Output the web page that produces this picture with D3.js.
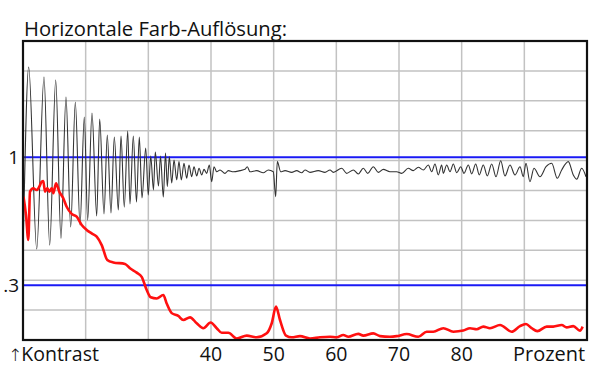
<!DOCTYPE html>
<html>
<head>
<meta charset="utf-8">
<script src="https://cdnjs.cloudflare.com/ajax/libs/d3/7.8.5/d3.min.js"></script>
<style>
  body { margin: 0; background: #fff; }
  svg text { font-family: "Open Sans", "Noto Sans", sans-serif; fill: #111; }
</style>
</head>
<body>
<svg id="chart" width="600" height="385"></svg>
<script>
// horizontal colour resolution, contrast (log) vs. percent of the frequency range
var title = 'Horizontale Farb-Auflösung:';

// luminance curve (black)
var blackPct = [10.08, 10.91, 12.19, 13.35, 14.26, 15.22, 16.06, 16.86, 17.61, 18.35, 19.10, 19.78,
  20.32, 21.01, 21.76, 22.24, 22.93, 23.45, 24.04, 24.57, 25.21, 25.64, 26.16, 26.71, 27.07, 27.60,
  28.11, 28.56, 28.99, 29.58, 29.99, 30.38, 30.82, 31.11, 31.62, 31.94, 32.39,
  32.74, 33.03, 33.35, 33.73, 34.10, 34.53, 34.89, 35.26, 35.69, 36.12, 36.49, 36.92, 37.29, 37.72,
  38.09, 38.52, 38.88, 39.31, 39.73, 40.11, 40.48, 40.91, 41.44, 42.23, 42.76, 43.56, 44.63, 45.43,
  45.79, 46.22, 47.29, 48.35, 49.14, 49.94, 50.32, 50.58, 51.12, 51.81, 52.88, 53.67, 54.47, 55.00,
  55.80, 57.12, 58.19, 58.99, 59.52, 60.86, 61.65, 62.71, 63.50, 64.30, 65.01, 65.90, 66.70, 67.49,
  68.56, 69.63, 70.43, 71.48, 72.28, 73.08, 73.88, 74.68, 75.22, 75.74, 76.27, 76.81, 77.07,
  77.61, 78.14, 78.67, 79.21, 79.85, 80.37, 81.06, 81.60, 82.24, 82.81, 83.45, 84.09, 84.79, 85.48,
  86.23, 86.91, 87.71, 88.51, 89.31, 89.83, 90.26, 90.90, 91.54, 92.50, 93.46, 94.37, 95.26, 95.96,
  97.02, 97.81, 98.36, 99.15, 99.84];
var blackVal = [0.505, 2.338, 0.422, 2.128, 0.438, 2.069, 0.467, 1.763, 0.519, 1.682, 0.529, 1.461,
  0.554, 1.517, 0.576, 1.434, 0.587, 1.233, 0.592, 1.210, 0.609, 1.221, 0.626, 1.281, 0.645, 1.221,
  0.656, 1.210, 0.682, 1.091, 0.701, 1.012, 0.736, 1.051, 0.764, 1.012, 0.688,
  1.041, 0.759, 1.006, 0.785, 0.975, 0.808, 0.960, 0.808, 0.945, 0.821, 0.930, 0.833, 0.915, 0.839,
  0.902, 0.847, 0.893, 0.860, 0.930, 0.795, 0.915, 0.873, 0.888, 0.860, 0.882, 0.873, 0.882, 0.893,
  0.915, 0.873, 0.882, 0.865, 0.888, 0.873, 0.690, 0.960, 0.873, 0.882, 0.868, 0.882, 0.865, 0.888,
  0.868, 0.882, 0.868, 0.888, 0.868, 0.902, 0.860, 0.888, 0.855, 0.902, 0.860, 0.915, 0.868, 0.893,
  0.873, 0.873, 0.860, 0.902, 0.882, 0.910, 0.888, 0.930, 0.873, 0.939, 0.847, 0.930, 0.860,
  0.930, 0.873, 0.939, 0.865, 0.915, 0.860, 0.930, 0.855, 0.939, 0.847, 0.930, 0.839, 0.939, 0.833,
  0.968, 0.839, 0.930, 0.847, 0.915, 0.833, 0.945, 0.795, 0.902, 0.833, 0.915, 0.945, 0.821, 0.888,
  0.960, 0.847, 0.814, 0.902, 0.833];

// colour curve (red)
var redPct = [10.08, 10.48, 10.85, 11.12, 11.64, 12.19, 12.60, 12.98, 13.24, 13.51, 13.88, 14.20,
  14.58, 14.84, 15.27, 15.79, 16.43, 16.97, 17.77, 18.57, 19.37, 20.16, 20.96, 21.76, 22.56, 23.45,
  24.41, 26.28, 27.07, 28.14, 28.94, 29.74, 30.38, 31.34, 32.39, 32.93, 33.73, 34.78, 35.58, 36.65,
  37.72, 38.77, 39.95, 40.91, 41.71, 42.76, 44.10, 45.70, 47.29, 48.89, 49.69, 50.37, 51.01, 51.97,
  52.88, 54.20, 55.80, 57.40, 58.99, 60.06, 61.11, 61.91, 63.50, 64.30, 65.90, 66.97, 68.56, 69.63,
  71.23, 73.08, 74.42, 75.47, 77.07, 78.67, 80.26, 81.33, 82.40, 83.45, 84.52, 86.12, 87.98, 89.31,
  90.26, 91.17, 92.07, 93.57, 94.62, 95.96, 96.76, 97.81, 98.88, 99.31];
var redVal = [0.690, 0.581, 0.460, 0.724, 0.747, 0.735, 0.759, 0.795, 0.800, 0.724, 0.747, 0.724,
  0.747, 0.713, 0.783, 0.724, 0.680, 0.628, 0.587, 0.572, 0.529, 0.505, 0.489, 0.474, 0.438, 0.381,
  0.372, 0.367, 0.352, 0.338, 0.325, 0.287, 0.268, 0.265, 0.274, 0.253, 0.231, 0.225, 0.2165, 0.222,
  0.210, 0.2005, 0.2115, 0.2005, 0.192, 0.192, 0.182, 0.187, 0.184, 0.191, 0.210, 0.2455, 0.2165, 0.187,
  0.184, 0.186, 0.182, 0.184, 0.185, 0.184, 0.188, 0.185, 0.190, 0.187, 0.191, 0.186, 0.185, 0.186,
  0.1897, 0.185, 0.194, 0.194, 0.2005, 0.194, 0.196, 0.2005, 0.1985, 0.2035, 0.2005, 0.2065, 0.194, 0.2045,
  0.2085, 0.2005, 0.195, 0.2035, 0.2035, 0.2065, 0.202, 0.2045, 0.196, 0.2035];

var xGrid = [20, 30, 40, 50, 60, 70, 80, 90];
var xTickLabels = [40, 50, 60, 70, 80];
var refLines = [1, 0.3];
var refLabels = ['1', '.3'];

var svg = d3.select('#chart');
var m = {top: 41, right: 13, bottom: 45, left: 23};
var w = 600 - m.left - m.right, h = 385 - m.top - m.bottom;

var x = d3.scaleLinear().domain([10, 100]).range([0, w]);
var y = d3.scaleLog().domain([0.1794, 2.985]).range([h, 0]);

var g = svg.append('g').attr('transform', 'translate(' + m.left + ',' + m.top + ')');

// grid: vertical every 10 %, horizontal 10 equal steps in log space
var lo = Math.log10(y.domain()[0]), hi = Math.log10(y.domain()[1]);
var yGrid = d3.range(1, 10).map(function(i) { return Math.pow(10, lo + (hi - lo) * i / 10); });

g.selectAll('line.vgrid').data(xGrid).enter().append('line')
  .attr('class', 'vgrid')
  .attr('x1', function(d) { return x(d); }).attr('x2', function(d) { return x(d); })
  .attr('y1', 0).attr('y2', h)
  .attr('stroke', '#c2c2c2').attr('stroke-width', 1.5);

g.selectAll('line.hgrid').data(yGrid).enter().append('line')
  .attr('class', 'hgrid')
  .attr('x1', 0).attr('x2', w)
  .attr('y1', function(d) { return y(d); }).attr('y2', function(d) { return y(d); })
  .attr('stroke', '#c2c2c2').attr('stroke-width', 1.5);

// reference lines at contrast 1 and 0.3
g.selectAll('line.ref').data(refLines).enter().append('line')
  .attr('class', 'ref')
  .attr('x1', 0).attr('x2', w)
  .attr('y1', function(d) { return y(d); }).attr('y2', function(d) { return y(d); })
  .attr('stroke', '#1a1af5').attr('stroke-width', 2);

svg.append('clipPath').attr('id', 'plotclip')
  .append('rect').attr('width', w).attr('height', h);

var line = d3.line()
  .x(function(d) { return x(d[0]); })
  .y(function(d) { return y(d[1]); })
  .curve(d3.curveMonotoneX);

var blackData = d3.zip(blackPct, blackVal);
var redData = d3.zip(redPct, redVal);

var plot = g.append('g').attr('clip-path', 'url(#plotclip)');

plot.append('path').datum(blackData)
  .attr('d', line)
  .attr('fill', 'none')
  .attr('stroke', '#333')
  .attr('stroke-width', 1.1)
  .attr('stroke-linejoin', 'round');

plot.append('path').datum(redData)
  .attr('d', line)
  .attr('fill', 'none')
  .attr('stroke', '#ff1010')
  .attr('stroke-width', 2.6)
  .attr('stroke-linejoin', 'round');

// frame
g.append('rect')
  .attr('width', w).attr('height', h)
  .attr('fill', 'none')
  .attr('stroke', '#111')
  .attr('stroke-width', 2.2);

// y labels
g.selectAll('text.ylab').data(refLines).enter().append('text')
  .attr('class', 'ylab')
  .attr('x', -4)
  .attr('y', function(d) { return y(d); })
  .attr('dy', '0.36em')
  .attr('text-anchor', 'end')
  .style('font-size', '19px')
  .text(function(d, i) { return refLabels[i]; });

// x labels
g.selectAll('text.xlab').data(xTickLabels).enter().append('text')
  .attr('class', 'xlab')
  .attr('x', function(d) { return x(d); })
  .attr('y', h + 21)
  .attr('text-anchor', 'middle')
  .style('font-size', '19.5px')
  .text(function(d) { return d; });

g.append('text')
  .attr('x', w - 2)
  .attr('y', h + 21)
  .attr('text-anchor', 'end')
  .attr('textLength', 72)
  .attr('lengthAdjust', 'spacingAndGlyphs')
  .style('font-size', '19.5px')
  .text('Prozent');

var kt = g.append('text')
  .attr('x', -15)
  .attr('y', h + 21)
  .style('font-size', '19.5px');
kt.append('tspan').style('font-family', 'DejaVu Sans').style('font-size', '17px').style('font-weight', '300').text('↑');
kt.append('tspan').attr('dx', -1).text('Kontrast');

// title
svg.append('text')
  .attr('x', 24)
  .attr('y', 36)
  .attr('textLength', 263)
  .attr('lengthAdjust', 'spacingAndGlyphs')
  .style('font-size', '20px')
  .text(title);
</script>
</body>
</html>
